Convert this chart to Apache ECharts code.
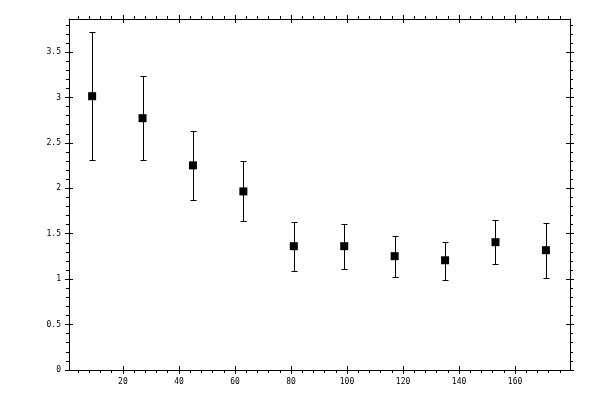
<!DOCTYPE html>
<html>
<head>
<meta charset="utf-8">
<script src="https://cdn.jsdelivr.net/npm/echarts@6/dist/echarts.min.js"></script>
<style>html,body{margin:0;padding:0;background:#fff;}#c{width:600px;height:400px;}</style>
</head>
<body>
<div id="c"></div>
<script>
// Data
const xValues = [9, 27, 45, 63, 81, 99, 117, 135, 153, 171];
const yValues = [3.014, 2.772, 2.253, 1.966, 1.363, 1.363, 1.253, 1.208, 1.407, 1.319];
const yUpper  = [3.716, 3.235, 2.635, 2.304, 1.624, 1.602, 1.470, 1.404, 1.646, 1.613];
const yLower  = [2.308, 2.308, 1.867, 1.639, 1.095, 1.117, 1.028, 0.995, 1.164, 1.017];

// Tick labels / positions
const xMajorTicks = [20, 40, 60, 80, 100, 120, 140, 160];
const xMinorTicks = [4, 8, 12, 16, 24, 28, 32, 36, 44, 48, 52, 56, 64, 68, 72, 76, 84, 88, 92, 96,
  104, 108, 112, 116, 124, 128, 132, 136, 144, 148, 152, 156, 164, 168, 172, 176];
const yMajorTicks = [0, 0.5, 1, 1.5, 2, 2.5, 3, 3.5];
const yMinorTicks = [0.1, 0.2, 0.3, 0.4, 0.6, 0.7, 0.8, 0.9, 1.1, 1.2, 1.3, 1.4, 1.6, 1.7, 1.8, 1.9,
  2.1, 2.2, 2.3, 2.4, 2.6, 2.7, 2.8, 2.9, 3.1, 3.2, 3.3, 3.4, 3.6, 3.7, 3.8];

const X_MIN = 0.75, X_MAX = 179.6, Y_MIN = 0, Y_MAX = 3.864;
const FONT = 'DejaVu Sans Mono';

function mkAxis(dim, pos, ticks, opts) {
  const a = {
    type: 'value', position: pos,
    min: dim === 'x' ? X_MIN : Y_MIN,
    max: dim === 'x' ? X_MAX : Y_MAX,
    splitLine: { show: false },
    axisLine: { show: !!opts.line, onZero: false, lineStyle: { color: '#000', width: 1 } },
    axisTick: { show: true, inside: !!opts.inside, length: opts.len, customValues: ticks,
      lineStyle: { color: '#000', width: 1 } },
    axisLabel: { show: false }
  };
  if (opts.labels) {
    a.axisLabel = { show: true, customValues: ticks, color: '#000', fontFamily: FONT, fontSize: 8,
      margin: 8, formatter: v => String(v) };
  }
  return a;
}

const chart = echarts.init(document.getElementById('c'), null, { renderer: 'canvas' });
chart.setOption({
  animation: false,
  backgroundColor: '#fff',
  grid: { left: 69, right: 30, top: 19, bottom: 30, containLabel: false },
  xAxis: [
    mkAxis('x', 'bottom', xMajorTicks, { line: true, len: 4, labels: true }),
    mkAxis('x', 'bottom', xMajorTicks, { inside: true, len: 4 }),
    mkAxis('x', 'bottom', xMinorTicks, { len: 3 }),
    mkAxis('x', 'top', xMajorTicks, { line: true, len: 4 }),
    mkAxis('x', 'top', xMajorTicks, { inside: true, len: 4 }),
    mkAxis('x', 'top', xMinorTicks, { len: 3 })
  ],
  yAxis: [
    mkAxis('y', 'left', yMajorTicks, { line: true, len: 4, labels: true }),
    mkAxis('y', 'left', yMajorTicks, { inside: true, len: 4 }),
    mkAxis('y', 'left', yMinorTicks, { len: 3 }),
    mkAxis('y', 'right', yMajorTicks, { line: true, len: 4 }),
    mkAxis('y', 'right', yMajorTicks, { inside: true, len: 4 }),
    mkAxis('y', 'right', yMinorTicks, { len: 3 })
  ],
  series: [
    {
      type: 'custom',
      xAxisIndex: 0, yAxisIndex: 0,
      data: xValues.map((x, i) => [x, yLower[i], yUpper[i]]),
      renderItem: function (params, api) {
        const lo = api.coord([api.value(0), api.value(1)]);
        const hi = api.coord([api.value(0), api.value(2)]);
        const cx = Math.round(lo[0]) + 0.5;
        const yTop = Math.round(hi[1]) + 0.5;
        const yBot = Math.round(lo[1]) + 0.5;
        const w = 3;
        const style = { stroke: '#000', lineWidth: 1, fill: null };
        return {
          type: 'group',
          children: [
            { type: 'line', shape: { x1: cx, y1: yTop, x2: cx, y2: yBot }, style: style },
            { type: 'line', shape: { x1: cx - w, y1: yTop, x2: cx + w, y2: yTop }, style: style },
            { type: 'line', shape: { x1: cx - w, y1: yBot, x2: cx + w, y2: yBot }, style: style }
          ]
        };
      },
      z: 2
    },
    {
      type: 'scatter',
      xAxisIndex: 0, yAxisIndex: 0,
      symbol: 'rect', symbolSize: 8,
      itemStyle: { color: '#000', opacity: 1 },
      data: xValues.map((x, i) => [x, yValues[i]]),
      z: 3
    }
  ]
});
</script>
</body>
</html>
